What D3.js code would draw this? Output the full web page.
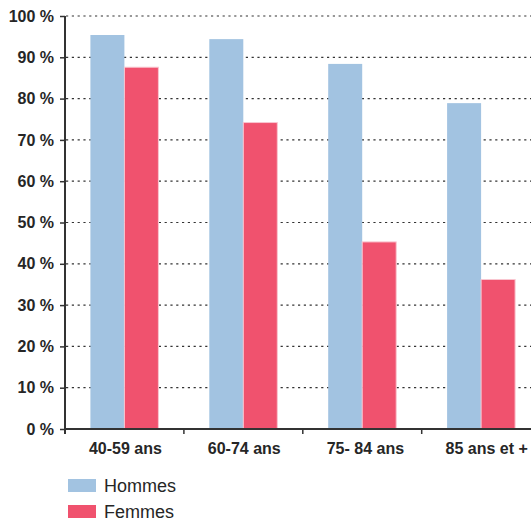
<!DOCTYPE html>
<html><head><meta charset="utf-8">
<script src="https://cdn.jsdelivr.net/npm/d3@7"></script>
<style>
html,body{margin:0;padding:0;background:#fff;}
svg{display:block;}
text{font-family:"Liberation Sans",Arial,Helvetica,sans-serif;}
</style></head>
<body>
<script>
const categories = ["40-59 ans", "60-74 ans", "75- 84 ans", "85 ans et +"];
const seriesNames = ["Hommes", "Femmes"];
const hommes = [95.4, 94.4, 88.4, 78.9];
const femmes = [87.6, 74.2, 45.3, 36.2];
const yTicks = [0, 10, 20, 30, 40, 50, 60, 70, 80, 90, 100];
const colors = ["#a2c3e1", "#f0526e"];

const W = 531, H = 520;
const svg = d3.select("body").append("svg").attr("width", W).attr("height", H);

const x0 = d3.scaleBand().domain(categories).range([65, 540.6]).padding(0);
const x1 = d3.scaleBand().domain(seriesNames).range([25.4, 93.4]).padding(0);
const y = d3.scaleLinear().domain([0, 100]).range([429, 16]);
const color = d3.scaleOrdinal().domain(seriesNames).range(colors);

// grid
svg.append("g").selectAll("line").data(yTicks.filter(d => d > 0)).join("line")
  .attr("x1", 66).attr("x2", W)
  .attr("y1", d => y(d)).attr("y2", d => y(d))
  .attr("stroke", "#333").attr("stroke-width", 1.2)
  .attr("stroke-dasharray", "2.2,3.6");

// bars
const rows = categories.map((c, i) => ({cat: c, vals: [hommes[i], femmes[i]]}));
const g = svg.append("g").selectAll("g").data(rows).join("g")
  .attr("transform", d => `translate(${x0(d.cat)},0)`);
g.selectAll("rect").data(d => d.vals.map((v, j) => ({name: seriesNames[j], v}))).join("rect")
  .attr("x", d => x1(d.name))
  .attr("width", x1.bandwidth())
  .attr("y", d => y(d.v))
  .attr("height", d => y(0) - y(d.v))
  .attr("fill", d => color(d.name))
  .attr("stroke", d => d.name === "Femmes" ? "#f9c6d0" : "none")
  .attr("stroke-width", 1);

// y axis
const yAxis = d3.axisLeft(y).tickValues(yTicks).tickSize(5).tickPadding(6)
  .tickFormat(d => d + " %");
const ya = svg.append("g").attr("transform", "translate(65,0)").call(yAxis);
ya.select(".domain").attr("stroke", "#333").attr("stroke-width", 2)
  .attr("d", "M0,16V434");
ya.selectAll(".tick line").attr("stroke", "#333").attr("stroke-width", 1.5);
ya.selectAll(".tick text").attr("fill", "#262626").attr("font-size", "16px")
  .attr("font-weight", "bold").attr("x", -11);

// x axis
const xa = svg.append("g").attr("transform", "translate(0,429)");
xa.append("line").attr("x1", 64).attr("x2", W).attr("y1", 0).attr("y2", 0)
  .attr("stroke", "#333").attr("stroke-width", 2);
xa.selectAll(".xt").data(categories.slice(1)).join("line").attr("class", "xt")
  .attr("x1", d => x0(d)).attr("x2", d => x0(d)).attr("y1", 0).attr("y2", 5)
  .attr("stroke", "#333").attr("stroke-width", 1.5);
xa.selectAll("text").data(categories).join("text")
  .attr("x", d => x0(d) + x1("Hommes") - 1.5)
  .attr("y", 25)
  .attr("text-anchor", "start")
  .attr("fill", "#262626").attr("font-size", "16px").attr("font-weight", "bold")
  .text(d => d);

// legend
const lg = svg.append("g").selectAll("g").data(seriesNames).join("g")
  .attr("transform", (d, i) => `translate(68,${479 + i * 26})`);
lg.append("rect").attr("width", 28).attr("height", 13).attr("fill", d => color(d));
lg.append("text").attr("x", 36).attr("y", 6.5).attr("dy", "0.35em")
  .attr("fill", "#262626").attr("font-size", "18px").text(d => d);
</script>
</body></html>
